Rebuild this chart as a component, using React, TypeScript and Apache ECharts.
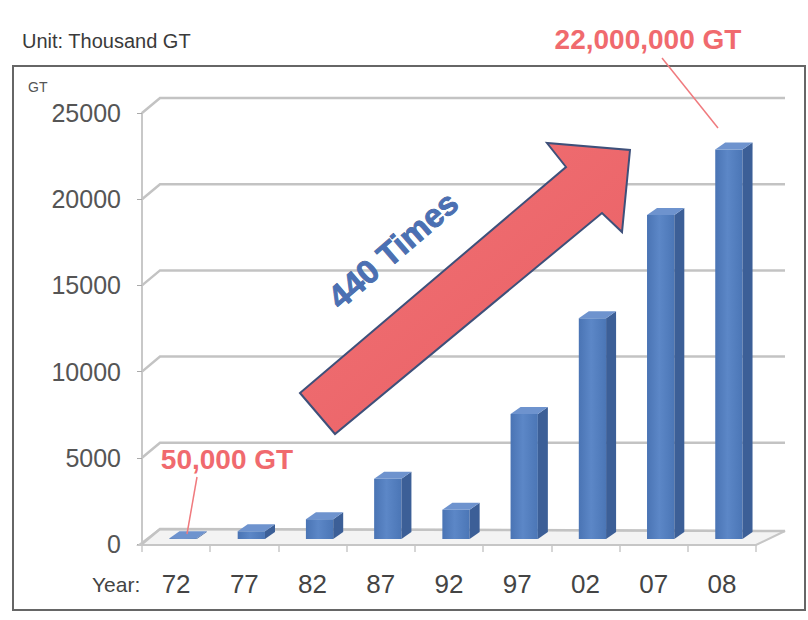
import React, { useEffect, useRef } from "react";
import * as echarts from "echarts";

const categories = ["72", "77", "82", "87", "92", "97", "02", "07", "08"];
const tonnage = [50, 450, 1150, 3500, 1700, 7250, 12800, 18800, 22600];
const yTicks = [0, 5000, 10000, 15000, 20000, 25000];
const unitText = "Unit: Thousand GT";
const axisUnit = "GT";
const xName = "Year:";
const startNote = "50,000 GT";
const endNote = "22,000,000 GT";
const growthNote = "440 Times";

const FONT = "'Liberation Sans', Arial, sans-serif";

export default function App() {
  const ref = useRef<HTMLDivElement>(null);
  useEffect(() => {
    if (!ref.current) return;
    const chart = echarts.init(ref.current, undefined, { renderer: "svg" });
    const option: any = {
      animation: false,
      backgroundColor: "#ffffff",
      textStyle: { fontFamily: FONT },
      grid: { left: 142, right: 52, top: 113, bottom: 76, containLabel: false },
      xAxis: {
        type: "category",
        data: categories,
        axisLine: { show: false },
        axisTick: { show: true, length: 8, lineStyle: { color: "#C8C8C8", width: 1.5 } },
        axisLabel: { color: "#444", fontSize: 26, margin: 27, fontFamily: FONT },
        splitLine: { show: false },
      },
      yAxis: {
        type: "value",
        min: 0,
        max: 25000,
        interval: 5000,
        axisLine: { show: true, lineStyle: { color: "#C8C8C8", width: 2 } },
        axisTick: { show: true, length: 5, lineStyle: { color: "#AAA" } },
        axisLabel: {
          color: "#555",
          fontSize: 25,
          margin: 21,
          fontFamily: FONT,
          formatter: (v: number) => String(v),
        },
        splitLine: { show: false },
      },
      series: [
        {
          type: "custom",
          silent: true,
          z: 1,
          data: yTicks.map((v) => [0, v]),
          encode: { x: 0, y: 1 },
          renderItem: (params: any, api: any) => {
            const cs = params.coordSys;
            const x0 = cs.x;
            const x1 = cs.x + cs.width;
            const v = api.value(1);
            const y = api.coord([0, v])[1];
            const bl = x0 + 18;
            const br = x1 + 29;
            const dy = -15;
            const children: any[] = [];
            if (v === 0) {
              children.push({
                type: "polygon",
                shape: { points: [[x0 - 3, y + 1], [x1, y + 1], [br, y + dy + 2], [bl, y + dy]] },
                style: { fill: "#F3F3F3", stroke: "#C6C6C6", lineWidth: 2 },
              });
            }
            children.push({
              type: "polyline",
              shape: { points: [[x0, y], [bl, y + dy], [br, y + dy + (v === 0 ? 2 : 0)]] },
              style: { stroke: "#C3C3C3", lineWidth: 2.5, fill: "none" },
            });
            return { type: "group", children };
          },
        },
        {
          type: "custom",
          z: 3,
          data: tonnage.map((v, i) => [i, v]),
          encode: { x: 0, y: 1 },
          renderItem: (params: any, api: any) => {
            const i = api.value(0);
            const v = api.value(1);
            const base = api.coord([i, 0]);
            const top = api.coord([i, v]);
            const w = api.size([1, 0])[0] * 0.4;
            const ox = 7, oy = -5, dx = 10, dy = -7;
            const xl = base[0] - w / 2 + ox;
            const xr = xl + w;
            const yb = base[1] + oy;
            const yt = top[1] + oy;
            return {
              type: "group",
              children: [
                {
                  type: "rect",
                  shape: { x: xl, y: yt, width: w, height: Math.max(yb - yt, 0.5) },
                  style: {
                    fill: new echarts.graphic.LinearGradient(0, 0, 1, 0, [
                      { offset: 0, color: "#4A74B4" },
                      { offset: 0.45, color: "#5C87C7" },
                      { offset: 1, color: "#4B76B6" },
                    ]),
                  },
                },
                {
                  type: "polygon",
                  shape: { points: [[xr, yt], [xr + dx, yt + dy], [xr + dx, yb + dy], [xr, yb]] },
                  style: { fill: "#3C5F97" },
                },
                {
                  type: "polygon",
                  shape: { points: [[xl, yt], [xl + dx, yt + dy], [xr + dx, yt + dy], [xr, yt]] },
                  style: { fill: "#6E93CE" },
                },
              ],
            };
          },
        },
      ],
      graphic: [
        {
          type: "rect",
          shape: { x: 13, y: 66, width: 792, height: 544 },
          style: { fill: "none", stroke: "#666", lineWidth: 2 },
          z: 0,
        },
        {
          type: "text",
          x: 22,
          y: 41,
          style: { text: unitText, fill: "#3A3A3A", font: `20px ${FONT}`, verticalAlign: "middle" },
        },
        {
          type: "text",
          x: 28,
          y: 87,
          style: { text: axisUnit, fill: "#555", font: `14px ${FONT}`, verticalAlign: "middle" },
        },
        {
          type: "text",
          x: 92,
          y: 584,
          style: { text: xName, fill: "#444", font: `21px ${FONT}`, verticalAlign: "middle" },
        },
        {
          type: "text",
          x: 648,
          y: 39,
          style: {
            text: endNote,
            fill: "#F06A6E",
            font: `bold 28px ${FONT}`,
            align: "center",
            verticalAlign: "middle",
          },
          z: 10,
        },
        {
          type: "line",
          shape: { x1: 662, y1: 58, x2: 718, y2: 128 },
          style: { stroke: "#F07A7E", lineWidth: 1.5 },
          z: 10,
        },
        {
          type: "text",
          x: 227,
          y: 459,
          style: {
            text: startNote,
            fill: "#F06A6E",
            font: `bold 28px ${FONT}`,
            align: "center",
            verticalAlign: "middle",
          },
          z: 10,
        },
        {
          type: "line",
          shape: { x1: 197, y1: 477, x2: 187, y2: 534 },
          style: { stroke: "#F07A7E", lineWidth: 1.5 },
          z: 10,
        },
        {
          type: "polygon",
          shape: {
            points: [
              [300, 393],
              [566, 167],
              [547, 143],
              [630, 150],
              [622, 232],
              [602, 213],
              [335, 434],
            ],
          },
          style: {
            fill: new echarts.graphic.LinearGradient(0, 0, 1, 1, [
              { offset: 0, color: "#F07275" },
              { offset: 1, color: "#EA5F64" },
            ]),
            stroke: "#3E507A",
            lineWidth: 2,
            lineJoin: "miter",
          },
          z: 10,
        },
        {
          type: "text",
          x: 393,
          y: 250,
          rotation: 0.71,
          style: {
            text: growthNote,
            fill: "#4B70B4",
            font: `bold 33px ${FONT}`,
            align: "center",
            verticalAlign: "middle",
            stroke: "#3A5A94",
            lineWidth: 0.8,
          },
          z: 10,
        },
      ],
    };
    chart.setOption(option);
    return () => chart.dispose();
  }, []);
  return (
    <div
      ref={ref}
      style={{ position: "fixed", left: 0, top: 0, width: 808, height: 620, background: "#fff" }}
    />
  );
}
